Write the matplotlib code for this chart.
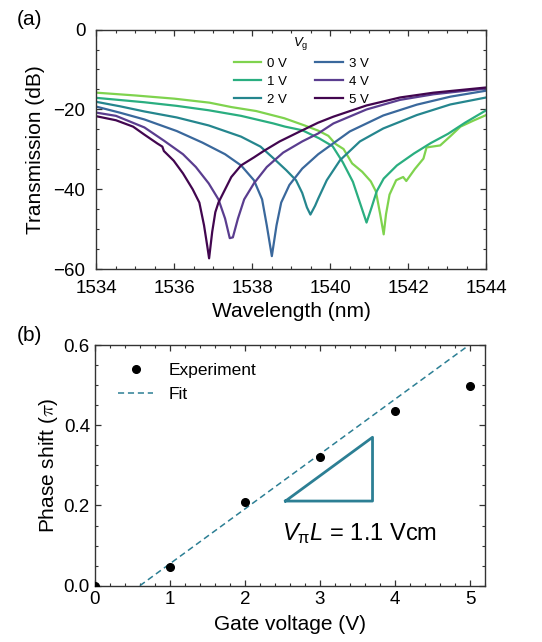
import matplotlib
matplotlib.use("Agg")
import matplotlib.pyplot as plt
from matplotlib.ticker import MultipleLocator

plt.rcParams['font.family'] = ['Liberation Sans', 'DejaVu Sans']
plt.rcParams['mathtext.fontset'] = 'custom'
plt.rcParams['mathtext.rm'] = 'Liberation Sans'
plt.rcParams['mathtext.it'] = 'Liberation Sans:italic'

# (a) transmission spectra
voltages = ['0 V', '1 V', '2 V', '3 V', '4 V', '5 V']
colors = ['#7fd34e', '#2aae80', '#25868e', '#3a689c', '#5a3d8f', '#42064f']

wl_0V = [1534.0, 1535.0, 1536.0, 1536.9, 1537.46, 1538.1, 1538.82, 1539.34, 1539.69, 1539.95, 1540.13, 1540.34,
         1540.56, 1540.82, 1541.04, 1541.17, 1541.28, 1541.37, 1541.43, 1541.52, 1541.69, 1541.87, 1541.95, 1542.17,
         1542.39, 1542.47, 1542.82, 1543.08, 1543.34, 1543.67, 1544.0]
tr_0V = [-15.8, -16.5, -17.3, -18.3, -19.4, -20.4, -22.2, -24.0, -25.3, -26.6, -28.6, -29.9,
         -33.5, -35.6, -38.0, -40.5, -46.2, -51.25, -46.2, -41.3, -37.7, -36.9, -37.9, -34.9,
         -32.3, -29.5, -29.0, -26.7, -24.3, -22.8, -21.4]

wl_1V = [1534.0, 1535.23, 1536.06, 1536.88, 1537.71, 1538.54, 1538.84, 1539.28, 1539.71, 1540.06, 1540.32, 1540.58,
         1540.8, 1540.93, 1541.06, 1541.19, 1541.37, 1541.71, 1542.15, 1542.58, 1543.02, 1543.46, 1544.0]
tr_1V = [-17.1, -18.2, -19.1, -20.2, -21.6, -23.5, -24.3, -25.2, -27.2, -29.2, -33.2, -38.1,
         -44.5, -48.3, -44.5, -40.5, -37.3, -34.0, -31.0, -28.4, -26.1, -23.3, -20.2]

wl_2V = [1534.0, 1534.6, 1535.23, 1536.06, 1536.88, 1537.71, 1538.21, 1538.54, 1538.87, 1539.12, 1539.28, 1539.4,
         1539.49, 1539.61, 1539.69, 1539.91, 1540.25, 1540.76, 1541.36, 1542.22, 1543.08, 1544.0]
tr_2V = [-18.1, -19.2, -20.5, -22.0, -24.0, -26.8, -29.3, -32.2, -35.2, -37.7, -40.9, -44.5,
         -46.3, -44.1, -42.3, -37.7, -32.7, -28.0, -24.75, -21.4, -18.75, -17.0]

wl_3V = [1534.0, 1534.6, 1535.23, 1536.06, 1536.72, 1537.3, 1537.71, 1538.04, 1538.25, 1538.37, 1538.5, 1538.62,
         1538.74, 1538.95, 1539.28, 1539.69, 1540.5, 1541.36, 1542.22, 1543.08, 1544.0]
tr_3V = [-19.3, -20.8, -22.5, -25.4, -28.3, -31.2, -34.0, -37.7, -42.5, -49.0, -56.7, -49.0,
         -43.3, -38.9, -34.8, -31.2, -25.5, -21.5, -18.8, -16.8, -15.3]

wl_4V = [1534.0, 1534.5, 1535.23, 1535.73, 1536.22, 1536.55, 1536.88, 1537.13, 1537.3, 1537.42, 1537.5, 1537.63,
         1537.79, 1538.04, 1538.37, 1538.79, 1539.28, 1539.69, 1540.08, 1540.93, 1541.79, 1542.65, 1544.0]
tr_4V = [-20.8, -21.6, -24.5, -27.8, -31.2, -34.4, -38.5, -42.5, -47.3, -52.2, -52.0, -47.3,
         -42.5, -38.5, -34.4, -30.8, -28.0, -26.0, -23.5, -20.0, -17.6, -16.2, -14.75]

wl_5V = [1534.0, 1534.5, 1534.94, 1535.23, 1535.56, 1535.69, 1535.73, 1535.98, 1536.22, 1536.47, 1536.64, 1536.76,
         1536.84, 1536.89, 1536.97, 1537.05, 1537.13, 1537.3, 1537.46, 1537.71, 1538.04, 1538.29, 1538.7, 1539.2,
         1539.69, 1540.08, 1540.93, 1541.79, 1542.65, 1544.0]
tr_5V = [-21.7, -22.7, -24.3, -26.3, -28.5, -29.3, -30.4, -32.8, -36.0, -40.0, -43.3, -49.0,
         -54.0, -57.25, -50.6, -45.7, -43.3, -40.0, -36.9, -34.0, -32.0, -30.4, -28.0, -25.6,
         -23.3, -21.8, -19.0, -17.0, -15.8, -14.5]

wavelengths = [wl_0V, wl_1V, wl_2V, wl_3V, wl_4V, wl_5V]
transmissions = [tr_0V, tr_1V, tr_2V, tr_3V, tr_4V, tr_5V]

# (b) phase shift vs gate voltage
gate_v = [0, 1, 2, 3, 4, 5]
phase = [0.0, 0.046, 0.209, 0.32, 0.436, 0.499]
fit_v = [0.6, 5.2]
fit_phase = [0.0, 0.629]
tri_x = [2.54, 3.70, 3.70, 2.54]
tri_y = [0.211, 0.211, 0.37, 0.211]

fig = plt.figure(figsize=(5.42, 6.42), dpi=100)
ax1 = fig.add_axes([0.178, 0.5805, 0.719, 0.3735])
ax2 = fig.add_axes([0.175, 0.0877, 0.72, 0.3749])

spine_col = '#333333'
for ax in (ax1, ax2):
    for s in ax.spines.values():
        s.set_color(spine_col)
        s.set_linewidth(1.0)
    ax.tick_params(which='both', direction='in', top=True, right=True, colors=spine_col,
                   labelcolor='black', labelsize=13.5)
    ax.tick_params(which='major', length=4.5, width=0.9)
    ax.tick_params(which='minor', length=2.5, width=0.8)
ax1.tick_params(which='major', pad=8)

for wl, tr, lab, c in zip(wavelengths, transmissions, voltages, colors):
    ax1.plot(wl, tr, color=c, lw=1.6, label=lab)
ax1.set_xlim(1534, 1544)
ax1.set_ylim(-60, 0)
ax1.xaxis.set_major_locator(MultipleLocator(2))
ax1.xaxis.set_minor_locator(MultipleLocator(0.5))
ax1.yaxis.set_major_locator(MultipleLocator(20))
ax1.yaxis.set_minor_locator(MultipleLocator(5))
ax1.set_xlabel('Wavelength (nm)', fontsize=15, labelpad=3)
ax1.set_ylabel('Transmission (dB)', fontsize=15, labelpad=6)
ax1.legend(ncol=2, title=r'$V_\mathrm{g}$', loc='upper center', bbox_to_anchor=(0.525, 1.026),
           frameon=False, fontsize=9.5, title_fontsize=9.5, handlelength=2.1,
           handletextpad=0.45, columnspacing=2.1, labelspacing=0.42)

# the point at the origin is cut by the axes, as in the original
ax2.plot(gate_v, phase, 'o', color='black', ms=5.5, label='Experiment', zorder=3)
ax2.plot(fit_v, fit_phase, '--', color='#2c7f94', lw=1.1, dashes=(4, 2.5), label='Fit')
ax2.plot(tri_x, tri_y, '-', color='#2c7f94', lw=2.0)
ax2.text(2.49, 0.13, r'$V_{\mathrm{\pi}}L$ = 1.1 Vcm', fontsize=17, va='center', ha='left')
ax2.set_xlim(0, 5.2)
ax2.set_ylim(0, 0.6)
ax2.xaxis.set_major_locator(MultipleLocator(1))
ax2.xaxis.set_minor_locator(MultipleLocator(0.2))
ax2.yaxis.set_major_locator(MultipleLocator(0.2))
ax2.yaxis.set_minor_locator(MultipleLocator(0.05))
ax2.set_xlabel('Gate voltage (V)', fontsize=15, labelpad=5)
ax2.set_ylabel(r'Phase shift ($\pi$)', fontsize=15, labelpad=3, math_fontfamily='cm')
ax2.legend(loc='upper left', bbox_to_anchor=(0.02, 0.99), frameon=False, fontsize=12.5,
           handlelength=2.0, handletextpad=0.9, labelspacing=0.5)

fig.text(0.03, 0.969, '(a)', fontsize=15, va='center')
fig.text(0.03, 0.477, '(b)', fontsize=15, va='center')

fig.savefig('out.png', dpi=100)
